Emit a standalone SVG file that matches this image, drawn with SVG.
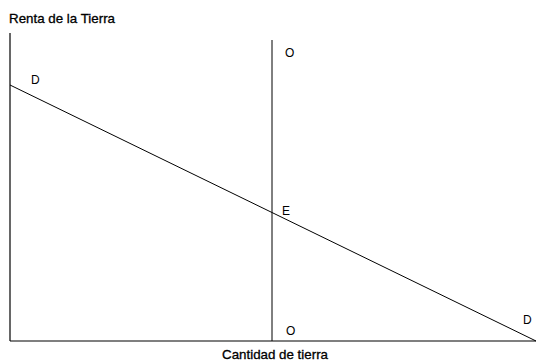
<svg xmlns="http://www.w3.org/2000/svg" width="536" height="363" viewBox="0 0 536 363">
<style>
.ax{stroke:#000;stroke-width:1.2;fill:none}
.ln{stroke:#000;stroke-width:1;fill:none}
.lb{font-family:"Liberation Sans",Arial,sans-serif;font-size:12px;fill:#000}
.tt{font-family:"Liberation Sans",Arial,sans-serif;font-size:13px;fill:#000;stroke:#000;stroke-width:0.3}
</style>
<rect width="536" height="363" fill="#fff"/>
<g id="connectors">
<line class="ax" x1="10" y1="33" x2="10" y2="341"/>
<line class="ax" x1="10" y1="341" x2="536" y2="341"/>
<line class="ln" x1="272" y1="40" x2="272" y2="341"/>
<line class="ln" x1="10" y1="85" x2="536" y2="341"/>
</g>
<g id="title-y"><text class="tt" x="9" y="23" textLength="106" lengthAdjust="spacingAndGlyphs">Renta de la Tierra</text></g>
<g id="title-x"><text class="tt" x="222" y="359" textLength="106" lengthAdjust="spacingAndGlyphs">Cantidad de tierra</text></g>
<g id="D1"><text class="lb" x="31" y="84">D</text></g>
<g id="O1"><text class="lb" x="285" y="57">O</text></g>
<g id="E"><text class="lb" x="282" y="215">E</text></g>
<g id="O2"><text class="lb" x="286" y="335">O</text></g>
<g id="D2"><text class="lb" x="523" y="324">D</text></g>
</svg>
